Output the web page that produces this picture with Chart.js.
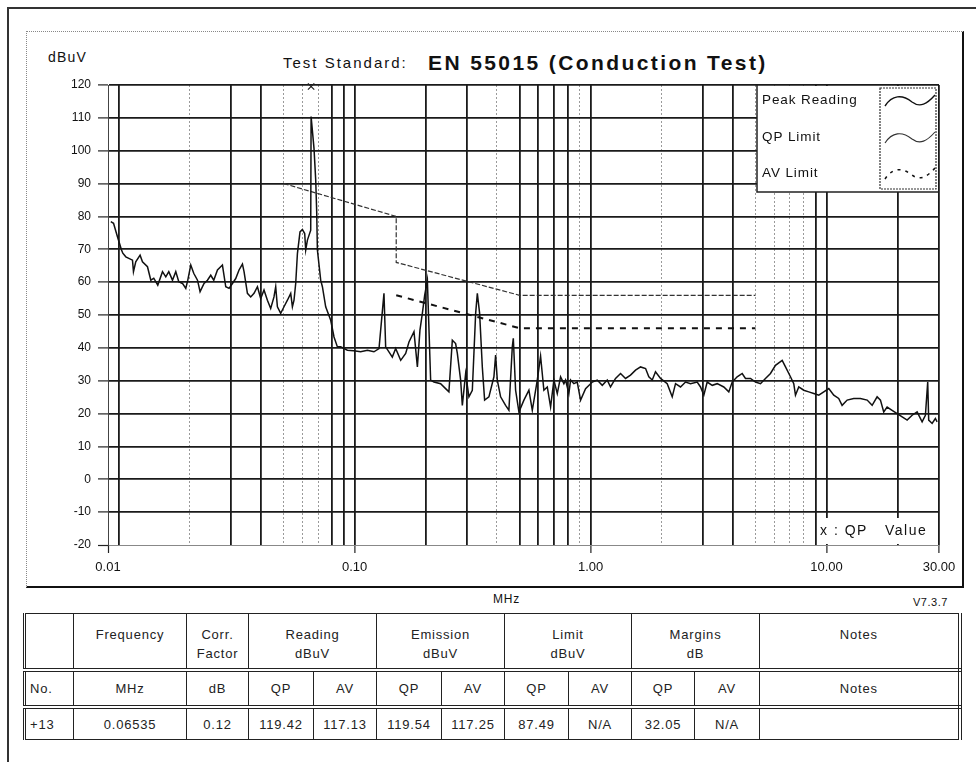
<!DOCTYPE html>
<html>
<head>
<meta charset="utf-8">
<script src="https://cdn.jsdelivr.net/npm/chart.js@4.4.1/dist/chart.umd.min.js"></script>
<style>
html,body{margin:0;padding:0;background:#fff;}
body{width:976px;height:762px;position:relative;overflow:hidden;font-family:"Liberation Sans",Arial,sans-serif;color:#111;}
#c{position:absolute;left:0;top:0;}
.t{position:absolute;white-space:nowrap;}
#outerTop{position:absolute;left:7px;top:7px;width:969px;height:0;border-top:2px solid #333;}
#outerLeft{position:absolute;left:7px;top:7px;width:0;height:755px;border-left:2px solid #333;}
#inner{position:absolute;left:26px;top:31px;width:938px;height:557px;box-sizing:border-box;border-top:1px dotted #888;border-left:1px dotted #888;border-right:2px solid #111;border-bottom:2px solid #111;}
#tbl{position:absolute;left:23px;top:613px;width:935px;border-collapse:collapse;table-layout:fixed;font-size:13px;letter-spacing:0.8px;color:#222;}
#tbl td{border:1px solid #222;text-align:center;padding:0;white-space:nowrap;overflow:hidden;}
#tbl tr.r1 td{height:43px;vertical-align:top;padding-top:11px;line-height:19px;border-bottom:4px double #222;}
#tbl tr.r2 td{height:33px;vertical-align:middle;border-bottom:4px double #222;}
#tbl tr.r3 td{height:30px;vertical-align:middle;}
#tbl td.l{text-align:left;padding-left:4px;}
#tbl td:last-child{border-right:4px double #222;}
#tbl td:first-child{border-left:3px double #222;}
</style>
</head>
<body>
<div id="outerTop"></div>
<div id="outerLeft"></div>
<div id="inner"></div>
<div class="t" style="left:48px;top:49px;font-size:14px;line-height:16px;letter-spacing:1.2px;">dBuV</div>
<div class="t" style="left:283px;top:54px;font-size:15px;line-height:18px;letter-spacing:2px;">Test Standard:</div>
<div class="t" style="left:428px;top:51px;font-size:21px;line-height:24px;font-weight:bold;letter-spacing:2.4px;">EN 55015 (Conduction Test)</div>
<div class="t" style="left:493px;top:592px;font-size:12px;line-height:14px;letter-spacing:0.8px;">MHz</div>
<div class="t" style="left:913px;top:596px;font-size:11px;line-height:13px;letter-spacing:0.5px;">V7.3.7</div>
<canvas id="c" width="976" height="600"></canvas>
<table id="tbl"></table>
<script>
// ---------- DATA ----------
const peakFreqMHz = [0.00925,0.0095,0.00987,0.01027,0.0104,0.01071,0.01143,0.01154,0.0118,0.01231,
0.0126,0.01323,0.01367,0.01407,0.01463,0.01532,0.01582,0.01629,0.01689,0.01744,
0.01796,0.01862,0.01923,0.01961,0.02019,0.02078,0.02156,0.02211,0.02298,0.02376,
0.02454,0.02527,0.0262,0.0275,0.02841,0.02934,0.03032,0.03131,0.03234,0.03343,
0.03396,0.0351,0.03625,0.03744,0.0387,0.03996,0.04127,0.04266,0.04405,0.04549,
0.04626,0.04703,0.04857,0.05016,0.05186,0.05356,0.05445,0.05531,0.05623,0.05718,
0.05864,0.06003,0.06139,0.062,0.06304,0.06511,0.06535,0.06723,0.06836,0.06902,
0.06949,0.07177,0.07297,0.07535,0.07914,0.08173,0.08447,0.08723,0.09314,0.09903,
0.106,0.1132,0.1207,0.1268,0.1331,0.1353,0.1397,0.1444,0.1492,0.1567,
0.1645,0.1699,0.1784,0.1844,0.1891,0.1936,0.198,0.2033,0.2099,0.2168,
0.2314,0.2429,0.2509,0.2594,0.2679,0.2724,0.2813,0.286,0.2954,0.305,
0.3153,0.3257,0.3311,0.3386,0.3476,0.3555,0.3707,0.3893,0.3958,0.4024,
0.4156,0.4363,0.4506,0.4658,0.4704,0.4811,0.4969,0.5217,0.5478,0.5662,
0.5944,0.6139,0.634,0.6554,0.6769,0.699,0.7225,0.7462,0.7706,0.7836,
0.8091,0.8229,0.8495,0.8781,0.9071,0.9524,1.017,1.067,1.121,1.177,
1.215,1.276,1.34,1.407,1.477,1.551,1.629,1.711,1.766,1.826,
1.885,1.98,2.113,2.219,2.292,2.406,2.527,2.653,2.832,2.925,
3.021,3.122,3.28,3.443,3.671,3.855,3.985,4.183,4.393,4.537,
4.764,5.003,5.253,5.514,5.79,6.08,6.492,6.705,7.038,7.268,
7.39,7.632,8.013,8.414,8.836,9.277,9.741,10.23,10.74,11.27,
11.65,12.24,13.05,13.93,14.88,15.62,16.4,16.94,17.49,18.08,
18.98,19.94,20.94,21.98,23.08,24.23,25.44,26.27,26.87,27.13,
28.05,28.96,29.45];
const peakLevelDbuv = [78.4,77.9,73.8,69.8,68.8,67.7,66.7,63.2,66.2,68.2,
66.2,64.7,60.6,61.2,59.1,63.2,61.6,63.2,60.6,63.2,
60.1,59.6,58.1,60.6,65.2,62.7,60.6,57.1,59.6,60.6,
62.1,60.6,63.7,65.2,58.6,58.1,59.6,61.1,63.7,65.5,
63.2,56.6,55.5,56.6,58.6,55.0,57.6,54.5,52.0,55.5,
58.6,52.5,50.5,52.5,54.5,56.6,52.5,54.5,59.6,68.7,
75.3,76.0,74.8,69.8,72.8,75.8,110.4,100.7,91.1,81.4,
69.8,60.6,58.6,52.5,48.4,43.3,40.3,40.3,39.3,39.1,
38.8,39.3,38.8,39.8,56.6,40.3,38.8,37.2,39.8,36.2,
38.3,41.8,44.9,34.2,45.4,50.5,56.0,60.6,30.2,29.6,
29.1,27.6,26.6,42.3,41.3,38.3,30.2,22.5,32.2,25.1,
27.1,50.5,56.6,50.5,34.2,24.1,25.1,31.2,37.8,30.2,
25.1,22.5,21.0,40.3,42.9,27.1,20.5,24.1,27.1,21.0,
30.2,37.5,27.1,28.1,22.0,30.2,26.1,31.2,29.1,30.2,
26.1,30.2,29.1,29.6,24.1,27.6,29.6,30.2,28.6,30.2,
28.1,30.7,32.2,30.7,31.7,33.2,34.2,33.7,31.2,30.2,
32.7,30.7,29.1,25.1,29.1,28.1,29.6,29.1,29.6,28.1,
25.6,29.6,28.6,29.1,28.1,26.6,29.6,31.2,32.2,30.7,
30.7,29.6,29.1,30.7,32.2,34.7,36.2,34.2,31.2,29.1,
25.6,28.1,27.1,26.6,26.1,25.6,26.6,27.6,25.6,24.6,
22.5,24.1,24.6,24.6,24.1,22.5,25.1,24.1,20.5,22.0,
21.0,20.0,19.0,18.0,19.5,20.5,17.5,19.5,29.6,18.0,
17.0,18.5,17.5];

const qpLimitFreq  = [0.05, 0.15, 0.15, 0.5, 5];
const qpLimitLevel = [90, 80, 66, 56, 56];
const avLimitFreq  = [0.15, 0.5, 5];
const avLimitLevel = [56, 46, 46];
const qpMarkFreq   = [0.06535];
const qpMarkLevel  = [119.54];

const seriesNames = ['Peak Reading', 'QP Limit', 'AV Limit', 'QP Value'];

const xGridTicks = [0.009,0.01,0.02,0.03,0.04,0.05,0.06,0.07,0.08,0.09,
  0.1,0.2,0.3,0.4,0.5,0.6,0.7,0.8,0.9,1,2,3,4,5,6,7,8,9,10,20,30];
const xBoldGrid  = [0.01,0.03,0.04,0.08,0.09,0.1,0.2,0.3,0.5,0.6,0.7,0.8,1,3,4,9,10,20,30];
const xLabelTicks = [0.009, 0.1, 1, 10, 30];
const xLabelText  = ['0.01', '0.10', '1.00', '10.00', '30.00'];
const yTickValues = [-20,-10,0,10,20,30,40,50,60,70,80,90,100,110,120];

const tableGroupRow = [['',1],['Frequency',1],['Corr.<br>Factor',1],['Reading<br>dBuV',2],['Emission<br>dBuV',2],['Limit<br>dBuV',2],['Margins<br>dB',2],['Notes',1]];
const tableUnitRow  = ['No.','MHz','dB','QP','AV','QP','AV','QP','AV','QP','AV','Notes'];
const tableValueRow = ['+13','0.06535','0.12','119.42','117.13','119.54','117.25','87.49','N/A','32.05','N/A',''];
const tableColWidths = [49,113,62,65,63,65,63,64,63,63,65,200];

// ---------- TABLE ----------
(function(){
  const t = document.getElementById('tbl');
  let h = '<colgroup>' + tableColWidths.map(w => '<col style="width:' + w + 'px">').join('') + '</colgroup>';
  h += '<tr class="r1">' + tableGroupRow.map(g => '<td' + (g[1] > 1 ? ' colspan="' + g[1] + '"' : '') + '>' + g[0] + '</td>').join('') + '</tr>';
  h += '<tr class="r2">' + tableUnitRow.map((v, i) => '<td' + (i === 0 ? ' class="l"' : '') + '>' + v + '</td>').join('') + '</tr>';
  h += '<tr class="r3">' + tableValueRow.map((v, i) => '<td' + (i === 0 ? ' class="l"' : '') + '>' + v + '</td>').join('') + '</tr>';
  t.innerHTML = h;
})();

// ---------- CHART ----------
const toXY = (xs, ys) => xs.map((x, i) => ({x: x, y: ys[i]}));
const isIn = (arr, v) => arr.some(a => Math.abs(a - v) / a < 1e-6);
const FONT = '"Liberation Sans", Arial, sans-serif';

function wave(ctx, sx, cy) {
  ctx.beginPath();
  ctx.moveTo(sx, cy + 6);
  ctx.bezierCurveTo(sx + 7, cy - 5, sx + 17, cy - 6, sx + 27, cy + 2);
  ctx.bezierCurveTo(sx + 35, cy + 8, sx + 42, cy + 4, sx + 50, cy - 5);
  ctx.stroke();
}

const legendBox = {
  id: 'legendBox',
  afterDatasetsDraw(chart) {
    const {ctx, chartArea: a} = chart;
    const ds = chart.data.datasets;
    const x0 = a.right - 182, y1 = a.top + 107;
    ctx.save();
    ctx.fillStyle = '#fff';
    ctx.fillRect(x0, a.top + 1, a.right - x0 - 1, y1 - a.top - 1);
    ctx.strokeStyle = '#222'; ctx.lineWidth = 1.5; ctx.setLineDash([]);
    ctx.beginPath(); ctx.moveTo(x0, a.top); ctx.lineTo(x0, y1); ctx.lineTo(a.right, y1); ctx.stroke();
    // swatch box
    ctx.lineWidth = 1.2; ctx.strokeStyle = '#333'; ctx.setLineDash([2, 1]);
    ctx.strokeRect(x0 + 123, a.top + 3, a.right - x0 - 126, y1 - a.top - 6);
    const rows = [a.top + 15, a.top + 52, a.top + 88];
    ctx.font = '13.5px ' + FONT; ctx.fillStyle = '#111'; ctx.textBaseline = 'middle'; ctx.textAlign = 'left';
    try { ctx.letterSpacing = '0.9px'; } catch (e) {}
    for (let i = 0; i < 3; i++) {
      ctx.fillText(ds[i].label, x0 + 5, rows[i]);
      ctx.strokeStyle = ds[i].borderColor;
      ctx.lineWidth = i === 0 ? 1.4 : (i === 1 ? 1.1 : 1.5);
      ctx.setLineDash(i === 2 ? [3, 5] : []);
      wave(ctx, x0 + 128, rows[i]);
    }
    // marker note
    ctx.setLineDash([]);
    ctx.fillStyle = '#fff';
    ctx.fillRect(a.right - 120, a.bottom - 27, 119, 26);
    ctx.fillStyle = '#111'; ctx.font = '14px ' + FONT;
    try { ctx.letterSpacing = '1.5px'; } catch (e) {}
    ctx.fillText('x : QP', a.right - 119, a.bottom - 14);
    ctx.fillText('Value', a.right - 54, a.bottom - 14);
    ctx.restore();
  }
};

new Chart(document.getElementById('c'), {
  type: 'line',
  data: {
    datasets: [
      {label: seriesNames[0], data: toXY(peakFreqMHz, peakLevelDbuv), borderColor: '#111', borderWidth: 1.5, pointRadius: 0, tension: 0, fill: false},
      {label: seriesNames[1], data: toXY(qpLimitFreq, qpLimitLevel), borderColor: '#333', borderWidth: 1.2, borderDash: [5, 2], pointRadius: 0, tension: 0, fill: false},
      {label: seriesNames[2], data: toXY(avLimitFreq, avLimitLevel), borderColor: '#111', borderWidth: 2, borderDash: [6, 6], pointRadius: 0, tension: 0, fill: false},
      {label: seriesNames[3], data: toXY(qpMarkFreq, qpMarkLevel), showLine: false, pointStyle: 'crossRot', pointRadius: 4.5, borderColor: '#222', pointBorderWidth: 1.2, borderWidth: 1.2, clip: false}
    ]
  },
  options: {
    responsive: false, animation: false, devicePixelRatio: 1,
    layout: {padding: {left: 48, top: 85, right: 37, bottom: 20}},
    plugins: {legend: {display: false}, tooltip: {enabled: false}, title: {display: false}},
    scales: {
      x: {
        type: 'logarithmic', min: 0.009, max: 30,
        afterBuildTicks: s => { s.ticks = xGridTicks.map(v => ({value: v})); },
        afterFit: s => { s.height = 35; s.paddingLeft = 0; s.paddingRight = 0; },
        ticks: {
          autoSkip: false, maxRotation: 0, minRotation: 0, padding: 7, color: '#111',
          font: {family: FONT, size: 13},
          callback: v => { const i = xLabelTicks.findIndex(a => Math.abs(a - v) / a < 1e-6); return i >= 0 ? xLabelText[i] : ''; }
        },
        grid: {
          color: c => (c.tick && isIn(xBoldGrid, c.tick.value)) ? '#1a1a1a' : '#9a9a9a',
          lineWidth: c => (c.tick && isIn(xBoldGrid, c.tick.value)) ? 1.8 : 1,
          tickColor: c => (c.tick && isIn(xLabelTicks, c.tick.value)) ? '#222' : 'rgba(0,0,0,0)',
          tickLength: 8, tickWidth: 1.2
        },
        border: {display: true, color: '#888', width: 1, dash: c => (c.tick && !isIn(xBoldGrid, c.tick.value)) ? [2, 2] : []}
      },
      y: {
        min: -20, max: 120,
        afterBuildTicks: s => { s.ticks = yTickValues.map(v => ({value: v})); },
        afterFit: s => { s.width = 60; s.paddingTop = 0; s.paddingBottom = 0; },
        ticks: {padding: 7, color: '#111', font: {family: FONT, size: 12}, callback: v => String(v)},
        grid: {
          color: c => (c.tick && c.tick.value === -20) ? '#9a9a9a' : '#1a1a1a',
          lineWidth: c => (c.tick && c.tick.value === -20) ? 1 : 1.8,
          tickColor: '#222', tickLength: 10, tickWidth: 1.2
        },
        border: {display: true, color: '#444', width: 1, dash: c => (c.tick && c.tick.value === -20) ? [2, 2] : []}
      }
    }
  },
  plugins: [legendBox]
});
</script>
</body>
</html>
